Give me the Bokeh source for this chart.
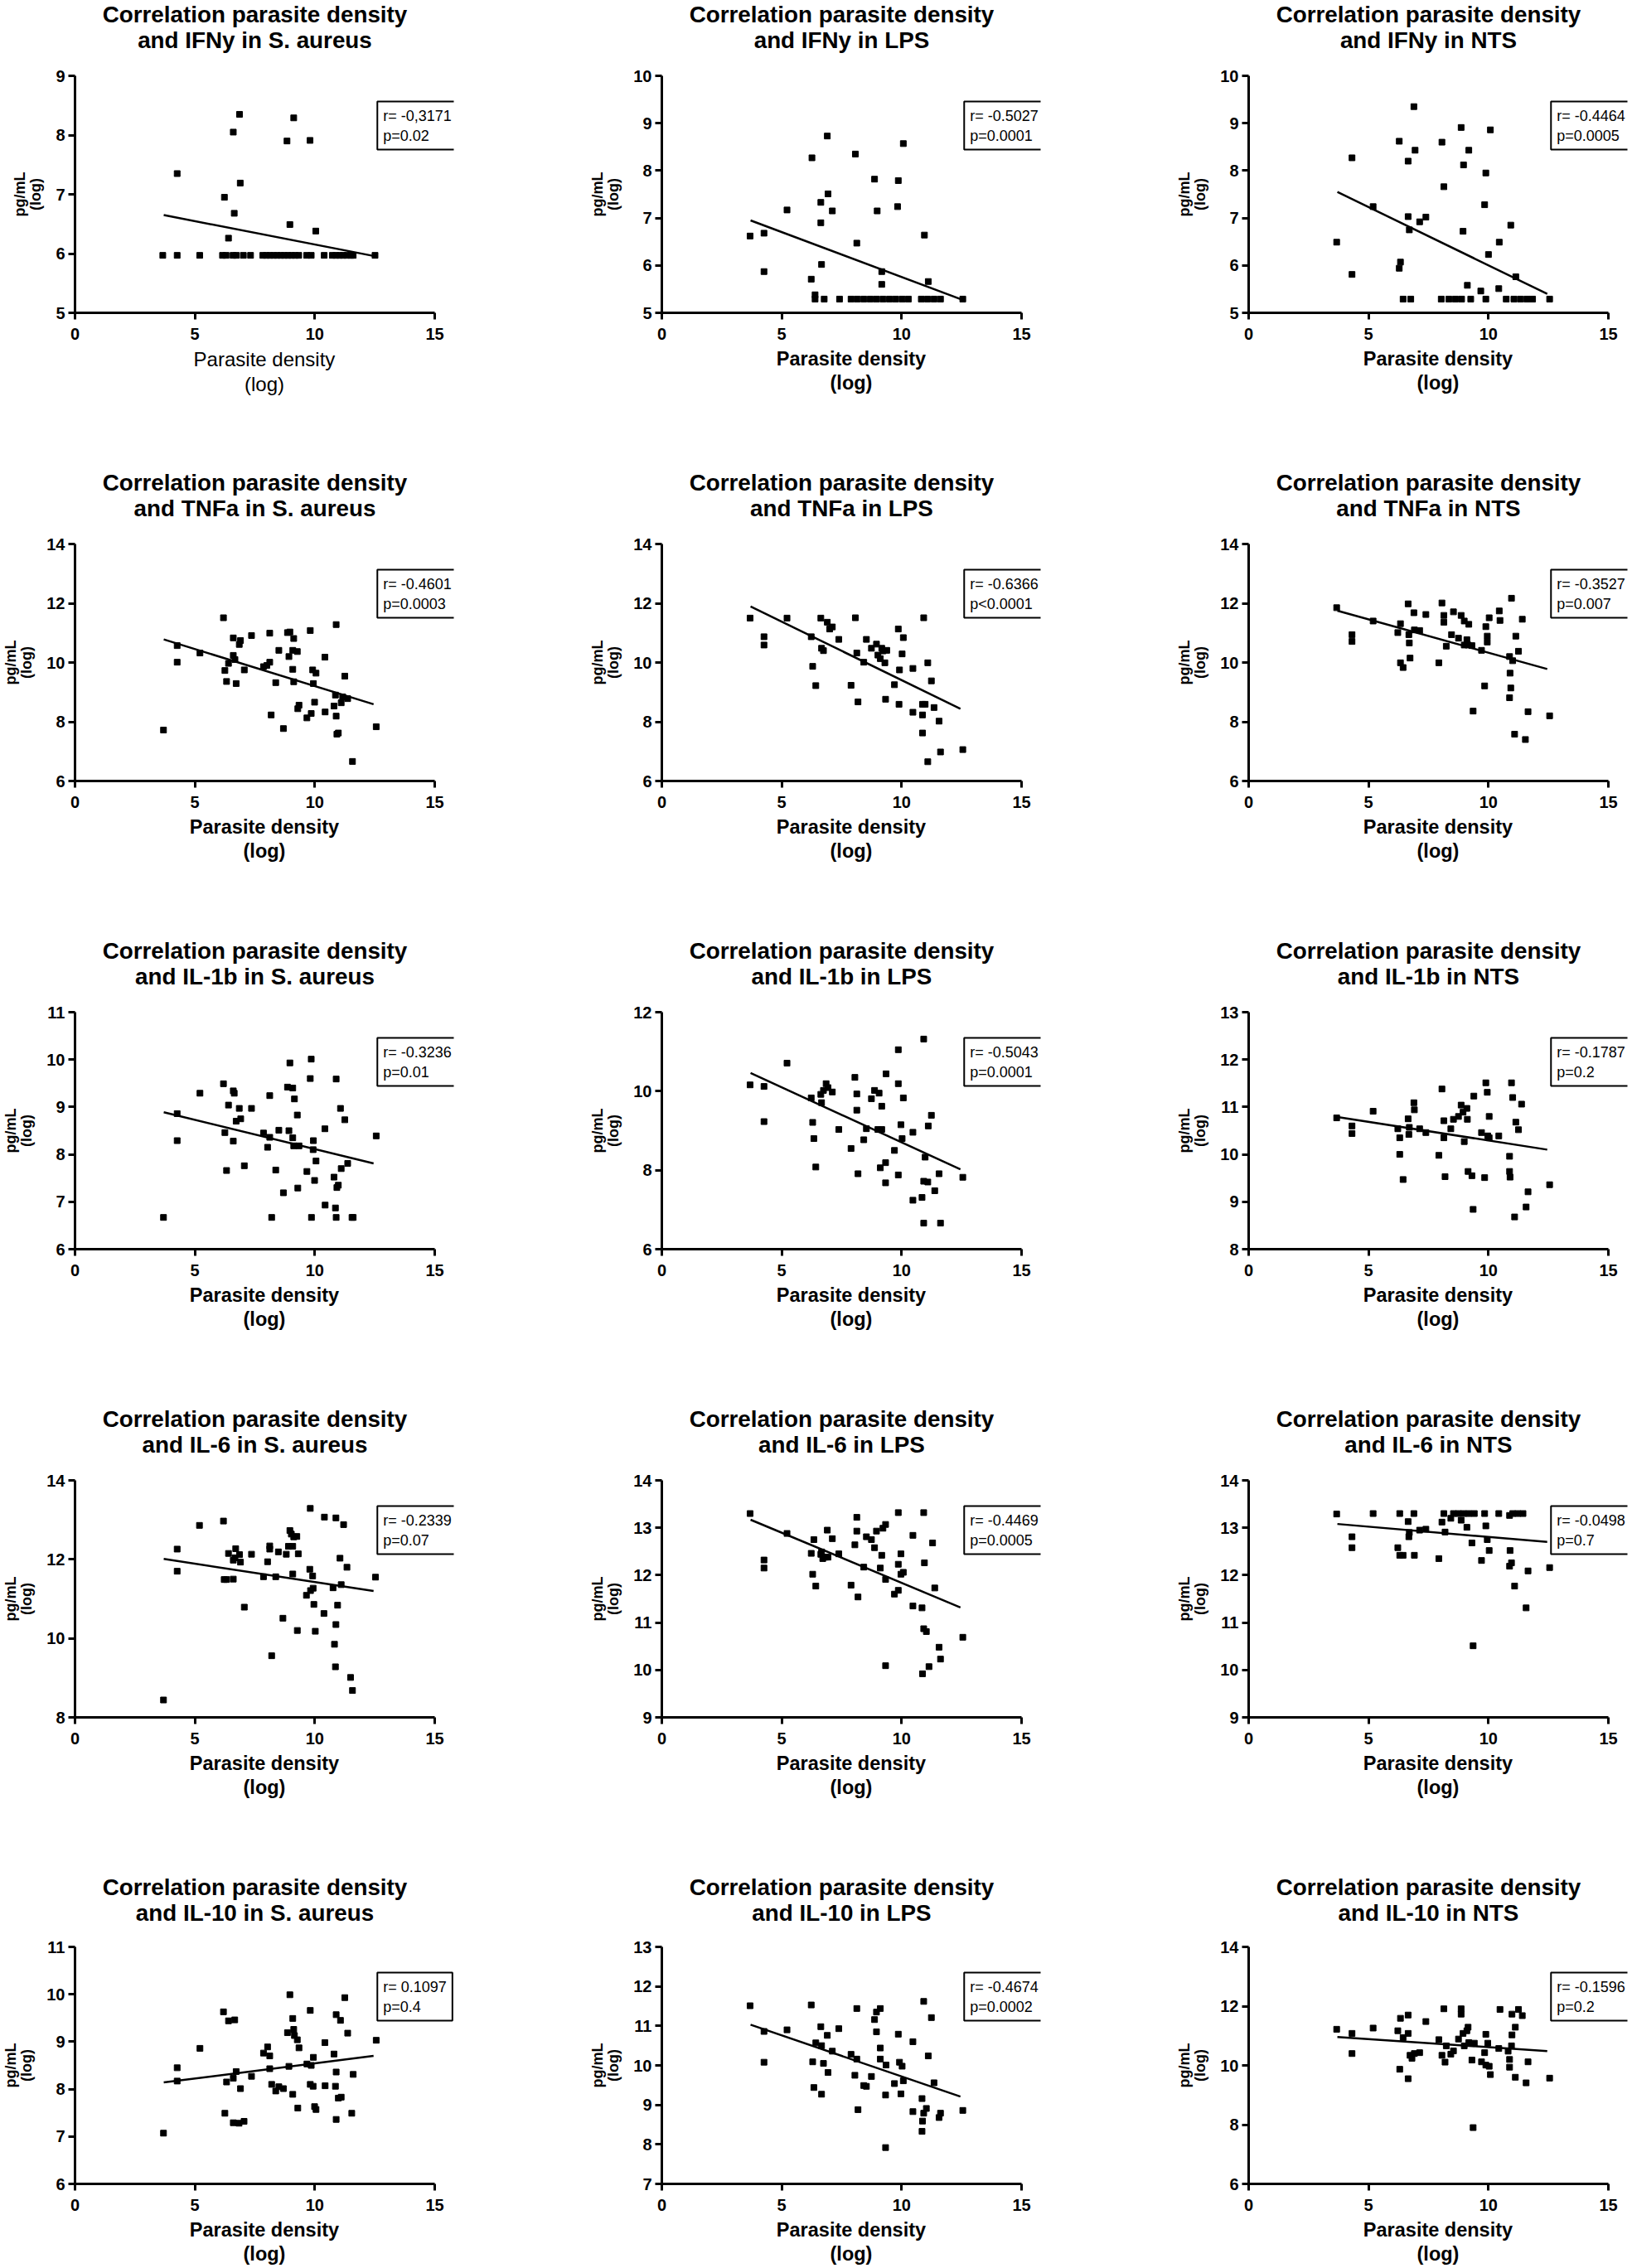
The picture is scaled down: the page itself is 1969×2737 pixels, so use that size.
from bokeh.plotting import figure
from bokeh.models import Label, Range1d, FixedTicker, Title, LinearAxis
from bokeh.layouts import gridplot
from bokeh.embed import file_html
from bokeh.resources import INLINE

FONT = "Liberation Sans"

# ---------------- data ----------------
x_ticks = [0, 5, 10, 15]
fit_x = [3.7, 12.45]

# Row 1: IFNy
x_ifny_sa = [4.26, 6.86, 6.60, 9.12, 8.84, 9.80, 6.89, 6.23, 6.64, 8.96, 10.04, 6.40,
             3.66, 4.26, 5.20, 6.15, 6.30, 6.59, 6.73, 7.02, 7.32, 7.83, 7.98, 8.13, 8.28, 8.43,
             8.58, 8.73, 8.88, 9.03, 9.18, 9.33, 9.66, 9.85, 10.39, 10.73, 10.88, 11.03, 11.18,
             11.33, 11.50, 11.60, 12.51]
y_ifny_sa = [7.35, 8.35, 8.05, 8.29, 7.90, 7.91, 7.19, 6.95, 6.68, 6.49, 6.38, 6.26,
             5.97, 5.97, 5.97, 5.97, 5.97, 5.97, 5.97, 5.97, 5.97, 5.97, 5.97, 5.97, 5.97, 5.97,
             5.97, 5.97, 5.97, 5.97, 5.97, 5.97, 5.97, 5.97, 5.97, 5.97, 5.97, 5.97, 5.97,
             5.97, 5.97, 5.97, 5.97]

x_ifny_lps = [3.68, 4.26, 4.26, 5.22, 6.26, 6.23, 6.39, 6.63, 6.63, 6.66, 6.90, 6.93, 7.11, 8.07,
              8.13, 8.87, 8.98, 9.17, 9.17, 9.86, 9.83, 10.07, 10.95, 11.11,
              6.39, 6.77, 7.41, 7.89, 8.15, 8.42, 8.69, 8.95, 9.22, 9.49, 9.75, 10.02, 10.28,
              10.82, 11.08, 11.35, 11.62, 12.55]
y_ifny_lps = [6.62, 6.68, 5.87, 7.17, 8.27, 5.71, 5.38, 7.33, 6.90, 6.02, 8.73, 7.51, 7.15, 8.35,
              6.47, 7.82, 7.15, 5.87, 5.60, 7.79, 7.24, 8.57, 6.64, 5.66,
              5.29, 5.29, 5.29, 5.29, 5.29, 5.29, 5.29, 5.29, 5.29, 5.29, 5.29, 5.29, 5.29,
              5.29, 5.29, 5.29, 5.29, 5.29]

x_ifny_nts = [3.67, 4.31, 4.31, 5.19, 6.28, 6.28, 6.33, 6.65, 6.65, 6.70, 6.89, 6.94, 7.13, 7.39,
              8.06, 8.14, 8.86, 8.96, 9.18, 8.94, 9.12, 9.68, 9.89, 9.84, 10.00, 10.08, 10.45,
              10.43, 10.93, 11.14,
              6.44, 6.76, 8.03, 8.35, 8.62, 8.88, 9.26, 9.89, 10.74, 11.06, 11.33, 11.60, 11.84, 12.55]
y_ifny_nts = [6.49, 8.27, 5.81, 7.24, 8.62, 5.94, 6.07, 8.20, 7.03, 6.75, 9.35, 8.43, 6.92, 7.02,
              8.60, 7.66, 8.91, 8.12, 8.43, 6.72, 5.58, 5.46, 7.95, 7.28, 6.23, 8.86, 6.49,
              5.51, 6.85, 5.76,
              5.29, 5.29, 5.29, 5.29, 5.29, 5.29, 5.29, 5.29, 5.29, 5.29, 5.29, 5.29, 5.29, 5.29]

# Row 2: TNFa
x_tnfa_sa = [3.69, 4.26, 4.26, 5.21, 6.19, 6.25, 6.32, 6.40, 6.60, 6.60, 6.67, 6.72, 6.85, 6.90,
             7.06, 7.36, 7.86, 8.00, 8.12, 8.12, 8.18, 8.37, 8.50, 8.69, 8.86, 8.96, 8.92, 9.08,
             9.08, 9.12, 9.12, 9.27, 9.29, 9.34, 9.67, 9.81, 9.85, 9.91, 9.94, 10.05, 9.99, 10.42,
             10.43, 10.80, 10.86, 10.89, 10.89, 10.92, 10.98, 11.10, 11.16, 11.25, 11.37, 11.57, 12.56]
y_tnfa_sa = [7.72, 10.57, 10.01, 10.32, 11.51, 9.73, 9.36, 9.97, 10.83, 10.24, 10.10, 9.29, 10.61, 10.74,
             9.75, 10.91, 9.86, 9.90, 10.01, 10.99, 8.23, 9.32, 10.41, 7.77, 11.01, 11.03, 10.20, 9.77,
             10.41, 10.81, 9.35, 10.37, 8.44, 8.56, 8.13, 11.08, 8.28, 9.75, 9.29, 9.64, 8.66, 10.18,
             8.33, 8.53, 8.90, 8.19, 11.28, 7.58, 7.62, 8.64, 8.84, 9.54, 8.78, 6.66, 7.83]

x_tnfa_lps = [3.68, 4.26, 4.26, 5.22, 6.23, 6.29, 6.42, 6.63, 6.66, 6.74, 6.90, 7.00, 7.11, 7.38,
              7.89, 8.07, 8.13, 8.18, 8.42, 8.53, 8.74, 8.95, 9.01, 9.11, 9.17, 9.22, 9.33, 9.30,
              9.38, 9.70, 9.86, 9.91, 9.89, 10.02, 10.07, 10.47, 10.47, 10.87, 10.87, 10.87, 10.92,
              10.98, 11.09, 11.09, 11.24, 11.35, 11.56, 11.62, 12.55]
y_tnfa_lps = [11.50, 10.87, 10.59, 11.50, 10.87, 9.87, 9.22, 11.50, 10.48, 10.40, 11.36, 11.13, 11.20, 10.78,
              9.23, 11.51, 10.32, 8.67, 10.01, 10.78, 10.48, 10.62, 10.25, 10.13, 10.48, 10.39, 8.76, 9.99,
              10.41, 9.25, 11.13, 9.75, 8.59, 10.29, 10.84, 9.80, 8.32, 8.59, 8.23, 7.62, 11.51,
              8.59, 9.99, 6.65, 9.38, 8.48, 8.02, 6.98, 7.06]

x_tnfa_nts = [3.67, 4.31, 4.31, 5.19, 6.22, 6.33, 6.33, 6.44, 6.65, 6.68, 6.70, 6.73, 6.89, 6.91,
              7.13, 7.39, 7.93, 8.06, 8.14, 8.14, 8.24, 8.46, 8.54, 8.75, 8.86, 8.99, 8.99, 9.10,
              9.18, 9.15, 9.31, 9.36, 9.71, 9.84, 9.89, 9.95, 9.95, 10.03, 10.45, 10.48, 10.88,
              10.90, 10.93, 10.88, 10.96, 11.01, 11.14, 11.09, 11.25, 11.41, 11.54, 11.65, 12.55]
y_tnfa_nts = [11.85, 10.94, 10.71, 11.40, 11.01, 11.31, 9.99, 9.83, 11.98, 10.94, 10.66, 10.15, 11.68, 11.10,
              11.08, 11.62, 9.99, 12.01, 11.59, 11.36, 10.55, 10.94, 11.71, 10.82, 11.59, 10.59, 11.40, 10.77,
              11.29, 10.59, 10.57, 8.36, 10.41, 9.21, 11.21, 10.89, 10.69, 11.51, 11.74, 11.42, 10.20,
              9.64, 9.14, 8.81, 12.17, 10.06, 10.89, 7.58, 10.38, 11.46, 7.40, 8.34, 8.20]

# Row 3: IL-1b
x_il1b_sa = [3.69, 4.26, 4.26, 5.21, 6.19, 6.25, 6.32, 6.40, 6.60, 6.64, 6.60, 6.72, 6.85, 6.91,
             7.06, 7.36, 7.86, 8.03, 8.12, 8.12, 8.20, 8.37, 8.50, 8.69, 8.86, 8.96, 8.92, 9.08,
             9.08, 9.15, 9.12, 9.27, 9.29, 9.34, 9.67, 9.81, 9.85, 9.86, 9.94, 9.93, 9.99, 10.05,
             10.42, 10.43, 10.80, 10.86, 10.89, 10.89, 10.92, 10.98, 11.07, 11.10, 11.25, 11.37,
             11.55, 11.60, 12.56]
y_il1b_sa = [6.67, 8.86, 8.29, 9.29, 9.49, 8.46, 7.66, 9.04, 9.34, 9.29, 8.28, 8.70, 8.97, 8.75,
             7.76, 8.97, 8.45, 8.15, 9.24, 8.36, 6.67, 7.67, 8.51, 7.19, 9.42, 9.93, 8.50, 9.40,
             8.35, 9.17, 8.18, 8.83, 7.29, 8.18, 7.64, 9.60, 10.01, 6.67, 8.29, 8.10, 7.45, 7.86,
             8.54, 6.93, 7.52, 6.87, 9.59, 6.67, 7.30, 7.35, 8.97, 7.70, 8.73, 7.81,
             6.67, 6.67, 8.39]

x_il1b_lps = [3.68, 4.26, 4.26, 5.22, 6.23, 6.29, 6.34, 6.42, 6.63, 6.66, 6.74, 6.85, 6.93, 7.11,
              7.38, 7.89, 8.05, 8.13, 8.13, 8.18, 8.42, 8.53, 8.74, 8.87, 9.01, 9.06, 9.17, 9.17,
              9.11, 9.33, 9.35, 9.33, 9.70, 9.86, 9.86, 9.86, 9.97, 10.02, 10.07, 10.47, 10.47,
              10.85, 10.92, 10.92, 10.98, 11.09, 11.11, 11.24, 11.38, 11.56, 10.92, 11.62, 12.55]
y_il1b_lps = [10.16, 10.12, 9.23, 10.71, 9.83, 9.21, 8.80, 8.08, 9.92, 9.71, 10.02, 10.19, 10.09, 9.98,
              9.03, 8.55, 10.35, 9.93, 9.52, 7.91, 8.77, 9.05, 9.81, 10.02, 9.03, 9.95, 9.03, 9.62,
              8.06, 8.19, 10.44, 7.68, 8.50, 10.19, 11.05, 7.88, 9.15, 8.80, 9.83, 8.96, 7.24,
              7.31, 11.32, 7.72, 8.33, 7.70, 9.12, 9.39, 7.48, 7.91, 6.66, 6.66, 7.82]

x_il1b_nts = [3.67, 4.31, 4.31, 5.19, 6.22, 6.30, 6.30, 6.44, 6.65, 6.68, 6.70, 6.89, 6.91, 7.13,
              7.39, 7.93, 8.06, 8.14, 8.14, 8.19, 8.43, 8.54, 8.75, 8.86, 8.94, 8.99, 9.10, 9.12,
              9.15, 9.31, 9.36, 9.39, 9.71, 9.84, 9.89, 9.95, 10.03, 9.97, 10.03, 10.43, 10.88,
              10.88, 10.90, 10.96, 11.01, 11.14, 11.09, 11.25, 11.38, 11.57, 11.65, 12.55]
y_il1b_nts = [10.77, 10.60, 10.44, 10.91, 10.54, 10.35, 10.00, 9.47, 10.75, 10.42, 10.57, 11.09, 10.94, 10.54,
              10.46, 9.98, 11.38, 10.71, 10.35, 9.53, 10.54, 10.74, 10.80, 11.04, 10.89, 10.27, 10.97, 10.74,
              9.64, 9.55, 8.84, 11.23, 10.46, 9.51, 11.51, 11.31, 10.80, 10.39, 10.35, 10.39, 9.96,
              9.64, 9.52, 11.51, 11.20, 10.68, 8.68, 10.52, 11.06, 8.89, 9.21, 9.36]

# Row 4: IL-6
x_il6_sa = [3.69, 4.26, 4.26, 5.19, 6.19, 6.22, 6.32, 6.40, 6.60, 6.60, 6.70, 6.67, 6.86, 6.90,
            7.06, 7.36, 7.86, 8.03, 8.12, 8.12, 8.20, 8.37, 8.48, 8.67, 8.81, 8.90, 8.96, 9.02,
            9.08, 9.08, 9.12, 9.25, 9.27, 9.31, 9.65, 9.79, 9.81, 9.82, 9.91, 9.93, 9.96, 10.02,
            10.38, 10.40, 10.76, 10.82, 10.86, 10.88, 10.88, 10.95, 11.05, 11.10, 11.20, 11.34,
            11.49, 11.57, 12.53]
y_il6_sa = [8.44, 12.26, 11.70, 12.86, 12.97, 11.49, 11.49, 12.15, 11.50, 11.98, 12.27, 12.04, 12.12, 11.93,
            10.79, 12.13, 11.56, 11.94, 12.34, 12.26, 9.56, 11.56, 12.19, 10.51, 12.13, 12.33, 12.73, 12.64,
            12.33, 11.63, 12.57, 12.58, 10.20, 12.14, 11.09, 11.75, 13.29, 11.21, 11.58, 11.27, 10.86, 10.18,
            10.63, 13.07, 11.28, 9.85, 9.28, 10.35, 13.05, 10.84, 12.03, 11.36, 12.88, 11.80,
            9.01, 8.68, 11.55]

x_il6_lps = [3.68, 4.26, 4.26, 5.22, 6.23, 6.29, 6.34, 6.42, 6.63, 6.66, 6.71, 6.82, 6.90, 6.93,
             7.11, 7.38, 7.89, 8.05, 8.13, 8.13, 8.18, 8.42, 8.53, 8.74, 8.87, 8.95, 9.11, 9.17,
             9.22, 9.33, 9.33, 9.33, 9.70, 9.86, 9.86, 9.86, 9.97, 9.97, 10.07, 10.47, 10.47,
             10.85, 10.92, 10.95, 10.92, 11.03, 10.87, 11.14, 11.29, 11.38, 11.56, 11.62, 12.55]
y_il6_lps = [13.30, 12.32, 12.15, 12.88, 12.46, 12.02, 12.75, 11.77, 12.44, 12.49, 12.35, 12.38, 12.95, 12.38,
             12.77, 12.45, 11.79, 12.64, 13.22, 12.93, 11.54, 12.17, 12.81, 12.75, 12.58, 12.93, 12.15, 12.42,
             12.99, 13.07, 11.91, 10.09, 11.60, 11.68, 12.23, 13.32, 12.45, 12.02, 12.06, 11.35, 12.84,
             11.31, 13.32, 12.26, 10.87, 10.81, 9.92, 10.07, 12.68, 11.73, 10.48, 10.23, 10.69]

x_il6_nts = [3.67, 4.31, 4.31, 5.19, 6.22, 6.30, 6.44, 6.30, 6.65, 6.68, 6.70, 6.89, 6.91, 7.13,
             7.39, 7.93, 8.06, 8.14, 8.19, 8.43, 8.54, 8.75, 8.86, 8.96, 9.10, 9.18, 9.31, 9.36,
             9.41, 9.71, 9.84, 9.89, 9.95, 10.03, 10.43, 10.88, 10.90, 10.88, 10.96, 11.01, 11.22,
             11.44, 11.09, 11.57, 11.65, 12.55]
y_il6_nts = [13.29, 12.81, 12.58, 13.30, 12.58, 12.42, 12.42, 13.30, 13.13, 12.81, 12.90, 13.30, 12.42, 12.95,
             12.97, 12.35, 13.12, 13.30, 12.91, 13.20, 13.30, 13.30, 13.16, 13.30, 13.01, 13.30, 12.68, 10.51,
             13.30, 12.31, 13.30, 13.04, 12.75, 12.52, 13.30, 13.26, 12.52, 12.19, 12.26, 13.30, 13.30,
             13.30, 11.77, 11.31, 12.09, 12.16]

# Row 5: IL-10
x_il10_sa = [3.69, 4.26, 4.26, 5.21, 6.19, 6.25, 6.32, 6.40, 6.60, 6.60, 6.66, 6.72, 6.84, 6.90,
             7.05, 7.36, 7.86, 8.03, 8.12, 8.12, 8.20, 8.37, 8.50, 8.69, 8.86, 8.96, 8.92, 9.08,
             9.08, 9.12, 9.15, 9.27, 9.29, 9.34, 9.67, 9.81, 9.85, 9.81, 9.94, 9.93, 9.99, 10.05,
             10.42, 10.43, 10.80, 10.86, 10.89, 10.89, 10.89, 10.98, 11.10, 11.07, 11.25, 11.37,
             11.54, 11.60, 12.56]
y_il10_sa = [7.07, 8.45, 8.17, 8.86, 9.63, 7.49, 8.15, 9.44, 8.23, 7.29, 9.46, 8.37, 7.28, 8.01,
             7.32, 8.27, 8.76, 8.89, 8.70, 8.43, 8.10, 7.96, 8.05, 8.01, 9.19, 9.99, 8.48, 9.49,
             7.89, 9.26, 9.13, 9.04, 7.60, 8.87, 8.53, 9.66, 8.50, 8.10, 8.67, 8.06, 7.63, 7.57,
             8.98, 8.07, 8.74, 8.06, 9.57, 8.36, 7.36, 7.81, 7.83, 9.45, 9.93, 9.18,
             7.49, 8.31, 9.03]

x_il10_lps = [3.68, 4.26, 4.26, 5.22, 6.23, 6.29, 6.34, 6.42, 6.63, 6.66, 6.74, 6.66, 6.90, 6.93,
              7.11, 7.38, 7.89, 8.05, 8.13, 8.13, 8.18, 8.42, 8.53, 8.74, 8.87, 8.95, 8.95, 9.11,
              9.11, 9.11, 9.33, 9.33, 9.35, 9.70, 9.86, 9.91, 9.97, 10.02, 10.07, 10.47, 10.47,
              10.85, 10.85, 10.87, 10.92, 10.92, 11.03, 11.11, 11.24, 11.35, 11.56, 11.62, 12.55]
y_il10_lps = [11.51, 10.86, 10.08, 10.90, 11.53, 10.09, 9.44, 10.57, 10.98, 10.50, 10.05, 9.27, 10.76, 9.82,
              10.36, 10.93, 10.28, 9.75, 11.44, 10.16, 8.88, 9.49, 9.47, 9.72, 11.16, 11.35, 10.85, 11.44,
              10.44, 10.16, 9.25, 7.92, 10.01, 9.54, 10.79, 10.08, 9.28, 9.98, 9.61, 10.60, 8.83,
              9.16, 8.33, 8.59, 11.62, 8.79, 8.91, 10.24, 11.21, 9.56, 8.68, 8.79, 8.86]

x_il10_nts = [3.67, 4.31, 4.31, 5.19, 6.22, 6.30, 6.33, 6.44, 6.65, 6.65, 6.65, 6.73, 6.81, 6.91,
              7.13, 7.39, 7.93, 8.06, 8.14, 8.19, 8.24, 8.43, 8.54, 8.75, 8.86, 8.86, 8.94, 8.99,
              9.10, 9.15, 9.18, 9.31, 9.36, 9.41, 9.71, 9.84, 9.89, 9.89, 9.97, 10.03, 10.08,
              10.43, 10.48, 10.82, 10.88, 10.88, 10.96, 10.98, 10.98, 11.12, 11.12, 11.25, 11.41,
              11.57, 11.65, 12.55]
y_il10_nts = [11.22, 11.08, 10.40, 11.26, 11.17, 9.87, 11.59, 10.94, 11.70, 11.08, 9.55, 10.34, 10.24, 10.40,
              10.43, 11.48, 10.87, 10.34, 11.91, 10.11, 10.66, 10.38, 10.49, 10.89, 11.73, 11.91, 11.08, 10.66,
              11.17, 11.29, 10.77, 10.18, 7.90, 10.75, 10.12, 10.43, 11.05, 10.01, 10.75, 9.97, 9.69,
              10.57, 11.89, 10.48, 10.20, 9.94, 10.66, 11.03, 11.73, 11.29, 9.60, 11.89, 11.68,
              9.41, 10.12, 9.57]

title_line1 = "Correlation parasite density"
title_line2 = ["and IFNy in S. aureus", "and IFNy in LPS", "and IFNy in NTS",
               "and TNFa in S. aureus", "and TNFa in LPS", "and TNFa in NTS",
               "and IL-1b in S. aureus", "and IL-1b in LPS", "and IL-1b in NTS",
               "and IL-6 in S. aureus", "and IL-6 in LPS", "and IL-6 in NTS",
               "and IL-10 in S. aureus", "and IL-10 in LPS", "and IL-10 in NTS"]
r_texts = ["r= -0,3171", "r= -0.5027", "r= -0.4464",
           "r= -0.4601", "r= -0.6366", "r= -0.3527",
           "r= -0.3236", "r= -0.5043", "r= -0.1787",
           "r= -0.2339", "r= -0.4469", "r= -0.0498",
           "r= 0.1097", "r= -0.4674", "r= -0.1596"]
p_texts = ["p=0.02", "p=0.0001", "p=0.0005",
           "p=0.0003", "p<0.0001", "p=0.007",
           "p=0.01", "p=0.0001", "p=0.2",
           "p=0.07", "p=0.0005", "p=0.7",
           "p=0.4", "p=0.0002", "p=0.2"]
y_ticks = [[5, 6, 7, 8, 9], [5, 6, 7, 8, 9, 10], [5, 6, 7, 8, 9, 10],
           [6, 8, 10, 12, 14], [6, 8, 10, 12, 14], [6, 8, 10, 12, 14],
           [6, 7, 8, 9, 10, 11], [6, 8, 10, 12], [8, 9, 10, 11, 12, 13],
           [8, 10, 12, 14], [9, 10, 11, 12, 13, 14], [9, 10, 11, 12, 13, 14],
           [6, 7, 8, 9, 10, 11], [7, 8, 9, 10, 11, 12, 13], [6, 8, 10, 12, 14]]
fit_start = [6.65, 6.95, 7.55, 10.78, 11.89, 11.75, 8.89, 10.46, 10.79,
             12.01, 13.17, 13.08, 8.14, 11.03, 10.96]
fit_end = [5.96, 5.29, 5.40, 8.59, 8.44, 9.78, 7.81, 8.02, 10.10,
           11.20, 11.32, 12.70, 8.70, 9.21, 10.48]

xs_all = [x_ifny_sa, x_ifny_lps, x_ifny_nts, x_tnfa_sa, x_tnfa_lps, x_tnfa_nts,
          x_il1b_sa, x_il1b_lps, x_il1b_nts, x_il6_sa, x_il6_lps, x_il6_nts,
          x_il10_sa, x_il10_lps, x_il10_nts]
ys_all = [y_ifny_sa, y_ifny_lps, y_ifny_nts, y_tnfa_sa, y_tnfa_lps, y_tnfa_nts,
          y_il1b_sa, y_il1b_lps, y_il1b_nts, y_il6_sa, y_il6_lps, y_il6_nts,
          y_il10_sa, y_il10_lps, y_il10_nts]

# ---------------- styling helpers ----------------
# advance widths (1/1000 em) of Liberation Sans Bold, used to centre title lines
BOLD_W = {' ': 278, '-': 333, '.': 278, '0': 556, '1': 556, '6': 556,
          'C': 722, 'I': 278, 'F': 611, 'N': 722, 'T': 611, 'L': 611, 'P': 667, 'S': 667,
          'a': 556, 'b': 611, 'd': 611, 'e': 556, 'i': 278, 'l': 278, 'n': 611, 'o': 611,
          'p': 611, 'r': 389, 's': 556, 't': 333, 'u': 611, 'y': 556}
TITLE_SIZE = 27.8
FRAME_W = 457          # pixels for the extended x range
AXIS_W = 434           # pixels spanned by x = 0 .. 15
X_END = 15.0 * FRAME_W / AXIS_W
TITLE_CENTER = 217
ROW_TOP = [91, 91, 91, 91, 89]
ROW_GAP = [28, 28, 28, 28, 26]


def text_w(s):
    return sum(BOLD_W.get(c, 556) for c in s) / 1000.0 * TITLE_SIZE


def add_title_line(p, text, standoff):
    t = Title(text=text, align="left", offset=TITLE_CENTER - text_w(text) / 2,
              standoff=standoff, vertical_align="bottom",
              text_font=FONT, text_font_size=f"{TITLE_SIZE}px",
              text_font_style="bold", text_color="black")
    p.add_layout(t, "above")


def style_axis(ax):
    ax.axis_line_width = 3
    ax.axis_line_color = "black"
    ax.major_tick_line_width = 3
    ax.major_tick_line_color = "black"
    ax.major_tick_out = 8
    ax.major_tick_in = 0
    ax.minor_tick_line_color = None
    ax.major_label_text_font = FONT
    ax.major_label_text_font_size = "20px"
    ax.major_label_text_font_style = "bold"
    ax.major_label_text_color = "black"
    ax.axis_label_text_font = FONT
    ax.axis_label_text_color = "black"


def make_panel(i):
    row, col = divmod(i, 3)
    ticks = y_ticks[i]
    left = 82 if col == 0 else 90
    right = 161 if col < 2 else 2
    bottom = 188 if row < 4 else 96
    p = figure(frame_width=FRAME_W, frame_height=286,
               x_range=Range1d(0, X_END), y_range=Range1d(ticks[0], ticks[-1]),
               output_backend="svg", toolbar_location=None,
               min_border_left=left, min_border_right=right,
               min_border_top=ROW_TOP[row], min_border_bottom=bottom)
    p.outline_line_color = None
    p.xgrid.visible = False
    p.ygrid.visible = False
    p.background_fill_color = "white"
    p.border_fill_color = "white"

    xa = p.below[0]
    ya = p.left[0]
    style_axis(xa)
    style_axis(ya)

    xa.ticker = FixedTicker(ticks=x_ticks)
    xa.bounds = (0, 15)
    xa.major_label_standoff = 10
    xa.axis_label = "Parasite density\n(log)"
    if i == 0:
        xa.axis_label_text_font_size = "24px"
        xa.axis_label_text_font_style = "normal"
    else:
        xa.axis_label_text_font_size = "23.5px"
        xa.axis_label_text_font_style = "bold"
    xa.axis_label_standoff = 7
    xa.axis_label_text_line_height = 1.13

    ya.ticker = FixedTicker(ticks=ticks)
    ya.major_label_standoff = 4
    ya.axis_label = "pg/mL\n(log)"
    ya.axis_label_text_font_size = "18px"
    ya.axis_label_text_font_style = "bold"
    ya.axis_label_standoff = 11
    ya.axis_label_text_line_height = 0.95

    # invisible spacer between frame and title (one hidden tick, empty label)
    spacer = LinearAxis(ticker=FixedTicker(ticks=[1]), major_label_overrides={1: ""},
                        axis_line_color=None, major_tick_line_color=None,
                        minor_tick_line_color=None,
                        major_tick_out=ROW_GAP[row], major_tick_in=0,
                        minor_tick_out=0, minor_tick_in=0, major_label_standoff=0,
                        major_label_text_font_size="1px")
    p.add_layout(spacer, "above")
    add_title_line(p, title_line2[i], 0)
    add_title_line(p, title_line1, -5)

    p.scatter(xs_all[i], ys_all[i], marker="square", size=7,
              fill_color="black", line_color="black")
    p.line(fit_x, [fit_start[i], fit_end[i]], line_width=2.5, line_color="black")

    lab = Label(x=12.4, y=ticks[-1], x_offset=6, y_offset=-31,
                text=r_texts[i] + "\n" + p_texts[i],
                text_font=FONT, text_font_size="18px", text_color="black",
                text_align="left", text_baseline="top", text_line_height=1.2,
                border_line_color="black", border_line_width=2,
                background_fill_color="white", padding=7)
    p.add_layout(lab)
    return p


panels = [make_panel(i) for i in range(15)]
grid = gridplot([panels[r * 3:(r + 1) * 3] for r in range(5)], toolbar_location=None)

open("out.html", "w").write(file_html(grid, INLINE))
